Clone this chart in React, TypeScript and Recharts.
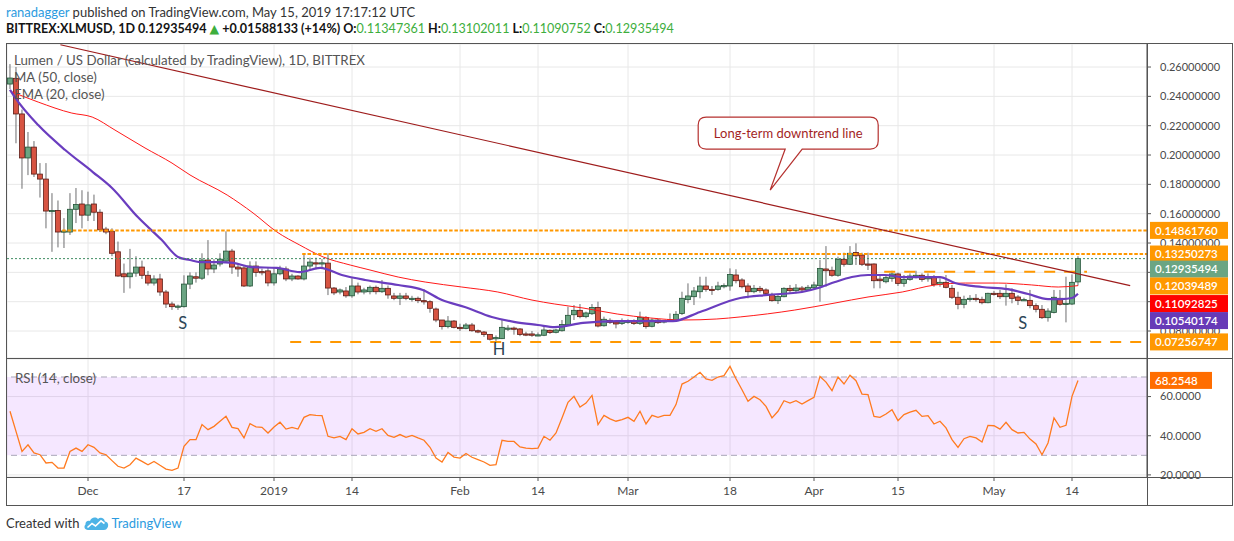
import React from 'react';
import {
  ComposedChart,
  Bar,
  Line,
  XAxis,
  YAxis,
  CartesianGrid,
  ReferenceLine,
  ReferenceArea,
  ReferenceDot,
} from 'recharts';

const FONT = 'Lato, "Open Sans", "DejaVu Sans", sans-serif';

// ---------- data (daily, index 0 = 2018-11-18, index 178 = 2019-05-15) ----------
const opens = [
  0.2484, 0.2523, 0.2280, 0.1980, 0.2054, 0.1870, 0.1836, 0.1618, 0.1622, 0.1475,
  0.1475, 0.1630, 0.1666, 0.1590, 0.1666, 0.1610, 0.1495, 0.1480, 0.1340, 0.1190,
  0.1170, 0.1195, 0.1236, 0.1180, 0.1127, 0.1155, 0.1066, 0.0984, 0.0966, 0.0966,
  0.1120, 0.1170, 0.1160, 0.1284, 0.1223, 0.1257, 0.1277, 0.1345, 0.1236, 0.1230,
  0.1107, 0.1243, 0.1205, 0.1210, 0.1128, 0.1190, 0.1223, 0.1155, 0.1175, 0.1155,
  0.1243, 0.1265, 0.1260, 0.1263, 0.1093, 0.1066, 0.1073, 0.1040, 0.1107, 0.1066,
  0.1068, 0.1098, 0.1068, 0.1091, 0.1039, 0.1023, 0.1039, 0.1015, 0.1023, 0.1007,
  0.1000, 0.0950, 0.0875, 0.0830, 0.0868, 0.0825, 0.0818, 0.0841, 0.0802, 0.0793,
  0.0777, 0.0748, 0.0748, 0.0818, 0.0820, 0.0814, 0.0780, 0.0780, 0.0771, 0.0771,
  0.0805, 0.0791, 0.0802, 0.0843, 0.0911, 0.0941, 0.0898, 0.0918, 0.0961, 0.0836,
  0.0873, 0.0861, 0.0852, 0.0859, 0.0868, 0.0852, 0.0893, 0.0832, 0.0875, 0.0861,
  0.0866, 0.0870, 0.0920, 0.1014, 0.1034, 0.1068, 0.1107, 0.1084, 0.1084, 0.1107,
  0.1107, 0.1182, 0.1148, 0.1107, 0.1068, 0.1091, 0.1080, 0.1050, 0.1007, 0.1034,
  0.1091, 0.1075, 0.1093, 0.1080, 0.1095, 0.1109, 0.1223, 0.1214, 0.1180, 0.1289,
  0.1255, 0.1336, 0.1318, 0.1257, 0.1257, 0.1154, 0.1136, 0.1159, 0.1189, 0.1125,
  0.1152, 0.1175, 0.1180, 0.1160, 0.1166, 0.1118, 0.1132, 0.1091, 0.1030, 0.0982,
  0.1020, 0.1023, 0.1016, 0.0993, 0.1057, 0.1057, 0.1034, 0.1057, 0.1032, 0.1011,
  0.1009, 0.0973, 0.0948, 0.0891, 0.0927, 0.1023, 0.0982, 0.0984, 0.11347361,
];

const highs = [
  0.2620, 0.2600, 0.2310, 0.2157, 0.2095, 0.1945, 0.1945, 0.1740, 0.1690, 0.1570,
  0.1740, 0.1775, 0.1760, 0.1750, 0.1730, 0.1630, 0.1510, 0.1500, 0.1410, 0.1260,
  0.1360, 0.1310, 0.1280, 0.1210, 0.1180, 0.1190, 0.1080, 0.1000, 0.0980, 0.1180,
  0.1200, 0.1200, 0.1330, 0.1420, 0.1290, 0.1330, 0.1480, 0.1360, 0.1250, 0.1250,
  0.1275, 0.1275, 0.1225, 0.1235, 0.1235, 0.1245, 0.1240, 0.1190, 0.1180, 0.1325,
  0.1300, 0.1300, 0.1290, 0.1330, 0.1100, 0.1090, 0.1100, 0.1160, 0.1130, 0.1095,
  0.1110, 0.1110, 0.1148, 0.1110, 0.1060, 0.1060, 0.1060, 0.1040, 0.1035, 0.1086,
  0.1010, 0.0960, 0.0875, 0.0902, 0.0875, 0.0850, 0.0855, 0.0855, 0.0810, 0.0800,
  0.0780, 0.0770, 0.0882, 0.0840, 0.0830, 0.0820, 0.0795, 0.0800, 0.0790, 0.0835,
  0.0810, 0.0815, 0.0875, 0.0966, 0.0977, 0.0984, 0.0932, 0.0984, 0.1000, 0.0898,
  0.0887, 0.0875, 0.0886, 0.0880, 0.0880, 0.0932, 0.0902, 0.0886, 0.0886, 0.0875,
  0.0920, 0.0936, 0.1068, 0.1125, 0.1100, 0.1170, 0.1170, 0.1107, 0.1136, 0.1125,
  0.1227, 0.1221, 0.1160, 0.1125, 0.1114, 0.1107, 0.1091, 0.1061, 0.1045, 0.1098,
  0.1114, 0.1120, 0.1107, 0.1114, 0.1136, 0.1284, 0.1379, 0.1239, 0.1307, 0.1334,
  0.1379, 0.1398, 0.1334, 0.1334, 0.1261, 0.1182, 0.1182, 0.1211, 0.1198, 0.1182,
  0.1193, 0.1211, 0.1193, 0.1193, 0.1182, 0.1159, 0.1182, 0.1114, 0.1068, 0.1041,
  0.1045, 0.1052, 0.1034, 0.1061, 0.1073, 0.1080, 0.1118, 0.1091, 0.1045, 0.1027,
  0.1080, 0.0989, 0.0977, 0.0955, 0.1080, 0.1080, 0.1170, 0.1186, 0.13102011,
];

const lows = [
  0.2450, 0.2080, 0.1770, 0.1863, 0.1850, 0.1710, 0.1500, 0.1340, 0.1370, 0.1366,
  0.1455, 0.1536, 0.1500, 0.1550, 0.1550, 0.1475, 0.1460, 0.1310, 0.1170, 0.1060,
  0.1090, 0.1170, 0.1155, 0.1110, 0.1110, 0.1040, 0.0957, 0.0944, 0.0944, 0.0960,
  0.1086, 0.1130, 0.1148, 0.1180, 0.1195, 0.1240, 0.1270, 0.1190, 0.1170, 0.1100,
  0.1100, 0.1170, 0.1180, 0.1105, 0.1110, 0.1180, 0.1140, 0.1140, 0.1150, 0.1145,
  0.1210, 0.1220, 0.1230, 0.1045, 0.1045, 0.1050, 0.1027, 0.1027, 0.1050, 0.1050,
  0.1050, 0.1050, 0.1060, 0.1020, 0.1010, 0.0977, 0.1010, 0.1000, 0.0990, 0.0980,
  0.0925, 0.0860, 0.0810, 0.0818, 0.0818, 0.0800, 0.0812, 0.0795, 0.0785, 0.0760,
  0.0735, 0.0725, 0.0745, 0.0800, 0.0775, 0.0765, 0.0765, 0.0760, 0.0765, 0.0765,
  0.0780, 0.0784, 0.0796, 0.0834, 0.0875, 0.0887, 0.0887, 0.0909, 0.0825, 0.0830,
  0.0848, 0.0818, 0.0841, 0.0850, 0.0841, 0.0841, 0.0816, 0.0825, 0.0848, 0.0852,
  0.0862, 0.0864, 0.0909, 0.0989, 0.0977, 0.1023, 0.1068, 0.1046, 0.1075, 0.1091,
  0.1075, 0.1125, 0.1091, 0.1023, 0.1057, 0.1061, 0.1045, 0.1000, 0.0984, 0.1030,
  0.1061, 0.1057, 0.1068, 0.1075, 0.1084, 0.1000, 0.1102, 0.1170, 0.1170, 0.1239,
  0.1250, 0.1250, 0.1243, 0.1216, 0.1091, 0.1091, 0.1125, 0.1136, 0.1107, 0.1102,
  0.1143, 0.1159, 0.1136, 0.1136, 0.1102, 0.1102, 0.1091, 0.1018, 0.0948, 0.0955,
  0.1000, 0.1000, 0.0982, 0.0989, 0.1041, 0.1018, 0.0973, 0.0989, 0.0977, 0.1005,
  0.0955, 0.0927, 0.0882, 0.0864, 0.0920, 0.0973, 0.0859, 0.0977, 0.11090752,
];

const closes = [
  0.2525, 0.2280, 0.1980, 0.2054, 0.1870, 0.1836, 0.1618, 0.1622, 0.1475, 0.1482,
  0.1630, 0.1663, 0.1590, 0.1660, 0.1610, 0.1490, 0.1475, 0.1330, 0.1175, 0.1170,
  0.1195, 0.1236, 0.1180, 0.1127, 0.1155, 0.1066, 0.0984, 0.0966, 0.0970, 0.1120,
  0.1175, 0.1160, 0.1284, 0.1223, 0.1250, 0.1290, 0.1345, 0.1236, 0.1223, 0.1107,
  0.1243, 0.1200, 0.1200, 0.1128, 0.1190, 0.1223, 0.1155, 0.1175, 0.1155, 0.1243,
  0.1270, 0.1260, 0.1265, 0.1093, 0.1060, 0.1080, 0.1040, 0.1107, 0.1066, 0.1080,
  0.1098, 0.1068, 0.1091, 0.1046, 0.1023, 0.1039, 0.1023, 0.1023, 0.1007, 0.1000,
  0.0955, 0.0875, 0.0830, 0.0868, 0.0825, 0.0816, 0.0841, 0.0802, 0.0793, 0.0777,
  0.0744, 0.0755, 0.0825, 0.0820, 0.0812, 0.0777, 0.0778, 0.0771, 0.0774, 0.0807,
  0.0790, 0.0807, 0.0845, 0.0907, 0.0941, 0.0898, 0.0923, 0.0961, 0.0834, 0.0880,
  0.0859, 0.0848, 0.0864, 0.0868, 0.0852, 0.0893, 0.0830, 0.0875, 0.0857, 0.0870,
  0.0877, 0.0914, 0.1023, 0.1039, 0.1073, 0.1107, 0.1084, 0.1082, 0.1107, 0.1110,
  0.1186, 0.1143, 0.1102, 0.1068, 0.1091, 0.1075, 0.1057, 0.1007, 0.1036, 0.1091,
  0.1075, 0.1093, 0.1080, 0.1098, 0.1114, 0.1227, 0.1211, 0.1180, 0.1289, 0.1255,
  0.1330, 0.1313, 0.1255, 0.1252, 0.1143, 0.1143, 0.1164, 0.1189, 0.1125, 0.1152,
  0.1175, 0.1180, 0.1152, 0.1164, 0.1118, 0.1132, 0.1098, 0.1030, 0.0982, 0.1016,
  0.1023, 0.1014, 0.0993, 0.1057, 0.1050, 0.1034, 0.1057, 0.1023, 0.1009, 0.1014,
  0.0973, 0.0948, 0.0891, 0.0936, 0.1030, 0.0982, 0.0989, 0.1132, 0.12935494,
];

const rsiValues = [
  52.5, 42.2, 32.0, 35.4, 31.2, 30.3, 26.1, 26.4, 23.5, 23.5,
  32.0, 33.7, 32.0, 35.4, 34.1, 31.2, 30.3, 27.3, 24.4, 23.5,
  25.2, 28.6, 26.9, 25.2, 26.9, 24.9, 23.0, 22.3, 23.5, 34.6,
  38.0, 38.0, 45.7, 43.1, 44.8, 47.4, 49.9, 44.3, 43.6, 38.9,
  46.2, 44.5, 44.3, 41.4, 44.5, 46.9, 43.4, 44.3, 43.4, 49.4,
  50.8, 50.4, 50.3, 39.7, 38.9, 39.7, 38.0, 43.6, 40.9, 41.7,
  43.6, 42.3, 43.6, 40.2, 39.2, 40.6, 39.2, 40.2, 38.9, 37.7,
  34.1, 28.6, 26.6, 31.5, 29.1, 28.6, 30.9, 29.0, 27.8, 26.6,
  24.9, 25.2, 37.7, 37.1, 37.1, 34.3, 33.7, 33.4, 33.7, 39.7,
  37.7, 41.4, 49.1, 57.1, 60.1, 54.7, 56.7, 60.6, 45.7, 50.4,
  48.6, 47.4, 48.2, 49.4, 47.4, 52.5, 46.0, 50.4, 49.4, 50.4,
  50.4, 55.9, 66.4, 67.8, 70.0, 72.4, 69.0, 68.3, 70.0, 70.7,
  75.4, 69.1, 63.5, 57.6, 60.1, 58.4, 55.0, 49.1, 52.5, 57.9,
  56.7, 57.9, 56.2, 57.9, 59.6, 70.3, 67.4, 63.0, 70.0, 66.4,
  70.9, 68.1, 61.3, 61.0, 49.9, 49.4, 51.1, 53.3, 47.7, 50.8,
  52.1, 53.0, 49.9, 50.3, 46.0, 47.4, 44.0, 38.0, 34.1, 38.5,
  39.7, 38.9, 36.8, 45.3, 45.1, 43.4, 46.9, 43.1, 41.4, 41.7,
  38.3, 35.8, 30.3, 36.3, 49.1, 44.3, 45.3, 60.1, 68.2548,
];

// MA (50, close) readings
const smaDays = [0, 4.7, 10.3, 13.7, 17.5, 22.5, 27, 30, 36.2, 40.5, 44.5, 48.3, 52.2, 56.7, 60, 64.7, 69.2, 75.3, 81.3, 87, 90.8, 95.5, 101.2, 106.7, 112.2, 117.8, 121.7, 130.8, 137.5, 143, 148.7, 154.2, 159.2, 164.7, 170.3, 174.7, 178];
const smaValues = [0.2436, 0.2361, 0.2286, 0.2259, 0.2170, 0.2048, 0.1945, 0.1864, 0.1727, 0.1605, 0.1475, 0.1386, 0.1305, 0.1250, 0.1216, 0.1168, 0.1134, 0.1100, 0.1066, 0.1011, 0.0984, 0.0957, 0.0916, 0.0889, 0.0875, 0.0882, 0.0896, 0.0943, 0.0991, 0.1032, 0.1066, 0.1114, 0.1127, 0.1127, 0.1114, 0.1100, 0.11092825];

// EMA (20, close) readings
const emaDays = [0, 0.8, 4.7, 9.2, 13.8, 17, 21.3, 25.3, 28, 30, 31.7, 34.7, 37.2, 40.3, 44.5, 48.3, 51.7, 55.3, 59.2, 64.7, 68.8, 72, 75.8, 80.3, 84.2, 88, 90.8, 95.5, 101.2, 106.7, 110.5, 115, 121.7, 126.3, 132, 134.7, 137.5, 140.3, 143, 145.8, 148.7, 152.5, 155, 157.5, 162, 166.3, 169.7, 173, 175.3, 177, 178];
const emaValues = [0.2445, 0.2395, 0.2204, 0.2034, 0.1884, 0.1775, 0.1577, 0.1420, 0.1305, 0.1284, 0.1270, 0.1270, 0.1264, 0.1236, 0.1230, 0.1202, 0.1230, 0.1182, 0.1148, 0.1114, 0.1080, 0.1011, 0.0964, 0.0896, 0.0861, 0.0841, 0.0827, 0.0855, 0.0868, 0.0868, 0.0868, 0.0930, 0.1025, 0.1046, 0.1066, 0.1093, 0.1134, 0.1168, 0.1182, 0.1182, 0.1168, 0.1168, 0.1168, 0.1127, 0.1100, 0.1086, 0.1052, 0.1018, 0.1018, 0.1025, 0.10540174];

// Long-term downtrend line end points (day index, price)
const trendDays = [8.4, 186.7];
const trendPrices = [0.2752, 0.1109];

// Horizontal levels
const resistance1 = 0.1486176;
const resistance2 = 0.13250273;
const neckline = 0.12039489;
const support = 0.07256747;
const lastClose = 0.12935494;
const lastSma = 0.11092825;
const lastEma = 0.10540174;
const lastRsi = 68.2548;

const tickDays = [13, 29, 44, 57, 75, 88, 103, 120, 134, 148, 164, 177];
const tickLabels = ['Dec', '17', '2019', '14', 'Feb', '14', 'Mar', '18', 'Apr', '15', 'May', '14'];
const priceTicks = [0.08, 0.1, 0.12, 0.14, 0.16, 0.18, 0.2, 0.22, 0.24, 0.26];
const rsiTicks = [20, 40, 60];

// ---------- derived tables ----------
const candles = opens.map((o, i) => ({
  i,
  o,
  h: highs[i],
  l: lows[i],
  c: closes[i],
  range: [lows[i], highs[i]],
}));
const smaData = smaDays.map((d, k) => ({ i: d, v: smaValues[k] }));
const emaData = emaDays.map((d, k) => ({ i: d, v: emaValues[k] }));
const rsiData = rsiValues.map((r, i) => ({ i, r }));

const X_DOMAIN: [number, number] = [-0.5, 189.5];
const PRICE_DOMAIN: [number, number] = [0.0616, 0.2757];
const RSI_DOMAIN: [number, number] = [18.93, 79.19];

const ORANGE = '#FF9800';
const UP = '#6BA583';
const DOWN = '#D75442';

const Candle = (props: any) => {
  const { x, y, width, height, payload } = props;
  if (!payload || x == null) return null;
  const { o, h, l, c } = payload;
  const top = Math.min(y, y + height);
  const H = Math.abs(height);
  const span = h - l || 1e-9;
  const yOf = (v: number) => top + ((h - v) / span) * H;
  const cx = x + width / 2;
  const up = c >= o;
  const bTop = yOf(Math.max(o, c));
  const bBot = yOf(Math.min(o, c));
  const bh = Math.max(bBot - bTop, 1.2);
  return (
    <g>
      <line x1={cx} x2={cx} y1={top} y2={top + H} stroke="#6E6E70" strokeWidth={1} />
      <rect
        x={cx - 2.4}
        y={bTop}
        width={4.8}
        height={bh}
        fill={up ? UP : DOWN}
        stroke={up ? '#225437' : '#5B1A13'}
        strokeWidth={0.8}
      />
    </g>
  );
};

const PriceTag = (props: any) => {
  const { viewBox, text, bg, shift = 0, w = 78 } = props;
  if (!viewBox) return null;
  const xx = viewBox.x + viewBox.width + 3;
  const yy = viewBox.y + shift;
  return (
    <g>
      <rect x={xx} y={yy - 8.5} width={w} height={17} fill={bg} />
      <text
        x={xx + 5}
        y={yy}
        dy="0.36em"
        fill="#FFFFFF"
        fontSize={11.5}
        fontFamily={FONT}
        fontWeight={600}
      >
        {text}
      </text>
    </g>
  );
};

const PatternLetter = (letter: string) => (p: any) => (
  <text
    x={p.cx}
    y={p.cy}
    textAnchor="middle"
    dy="0.36em"
    fontSize={16.5}
    fontFamily={FONT}
    fill="#2C4656"
  >
    {letter}
  </text>
);

const Callout = (p: any) => {
  const { cx, cy } = p;
  if (cx == null) return null;
  const L = cx - 72;
  const R = cx + 108;
  const T = cy - 73;
  const B = cy - 41;
  const r = 8;
  const d = `M ${L + r} ${T} H ${R - r} Q ${R} ${T} ${R} ${T + r} V ${B - r} Q ${R} ${B} ${R - r} ${B} H ${cx + 32} L ${cx} ${cy} L ${cx + 15} ${B} H ${L + r} Q ${L} ${B} ${L} ${B - r} V ${T + r} Q ${L} ${T} ${L + r} ${T} Z`;
  return (
    <g>
      <path d={d} fill="#FFFFFF" stroke="#B5312F" strokeWidth={1.2} />
      <text
        x={(L + R) / 2}
        y={(T + B) / 2}
        dy="0.36em"
        textAnchor="middle"
        fontSize={13}
        fontFamily={FONT}
        fill="#A31F1F"
      >
        Long-term downtrend line
      </text>
    </g>
  );
};

const axisTick = { fill: '#4A4A4A', fontSize: 11, fontFamily: FONT };

const frameLine = (left: number, top: number, width: number, height: number) => (
  <div
    style={{
      position: 'absolute',
      left,
      top,
      width,
      height,
      background: '#555',
      pointerEvents: 'none',
    }}
  />
);

const TvLogo = () => (
  <svg width={26} height={16} viewBox="0 0 26 16" style={{ display: 'block' }}>
    <path
      d="M5 15 C1.5 15 0.5 11.5 2.5 9.6 C2 6.5 5 5 7 6 C8 2.5 12.5 1.5 15 4 C17 1.8 21.5 2.6 21.8 6.4 C25 6.6 26 10 24.6 12.5 C23.8 14.2 22.5 15 21 15 Z"
      fill="#4DB3E6"
    />
    <path d="M4.5 12.5 L9 8.5 L12.5 11 L18 5.8 L21.5 8.5" stroke="#FFFFFF" strokeWidth={1.6} fill="none" />
  </svg>
);

const legendStyle: React.CSSProperties = {
  position: 'absolute',
  left: 14,
  fontSize: 13.3,
  lineHeight: '16px',
  color: '#555',
  whiteSpace: 'nowrap',
};

export default function App() {
  return (
    <div
      style={{
        position: 'absolute',
        left: 0,
        top: 0,
        width: 1234,
        height: 541,
        background: '#FFFFFF',
        fontFamily: FONT,
        overflow: 'hidden',
      }}
    >
      {/* header */}
      <div style={{ position: 'absolute', left: 6, top: 4, fontSize: 13, lineHeight: '16px', color: '#333', whiteSpace: 'nowrap' }}>
        <span style={{ color: '#2C9BE0' }}>ranadagger</span> published on TradingView.com, May 15, 2019 17:17:12 UTC
      </div>
      <div style={{ position: 'absolute', left: 6, top: 21, fontSize: 12.55, lineHeight: '16px', color: '#131313', whiteSpace: 'nowrap', fontWeight: 700 }}>
        BITTREX:XLMUSD, 1D 0.12935494 <span style={{ color: '#3DAE3D' }}>▲</span> +0.01588133 (+14%) O:
        <span style={{ color: '#3DAE3D', fontWeight: 400 }}>0.11347361</span> H:
        <span style={{ color: '#3DAE3D', fontWeight: 400 }}>0.13102011</span> L:
        <span style={{ color: '#3DAE3D', fontWeight: 400 }}>0.11090752</span> C:
        <span style={{ color: '#3DAE3D', fontWeight: 400 }}>0.12935494</span>
      </div>

      {/* main price pane */}
      <div style={{ position: 'absolute', left: 7, top: 44 }}>
        <ComposedChart width={1225} height={314} data={candles} margin={{ top: 0, right: 0, bottom: 0, left: 0 }}>
          <CartesianGrid stroke="#E8E8E8" />
          <XAxis dataKey="i" type="number" domain={X_DOMAIN} ticks={tickDays} allowDataOverflow hide />
          <YAxis
            orientation="right"
            width={85}
            domain={PRICE_DOMAIN}
            ticks={priceTicks}
            allowDataOverflow
            tickFormatter={(v: number) => v.toFixed(8)}
            tick={axisTick}
            tickSize={4}
            tickMargin={9}
            tickLine={{ stroke: '#555' }}
            axisLine={{ stroke: '#555' }}
          />
          <Bar dataKey="range" barSize={5} shape={<Candle />} isAnimationActive={false} />
          <Line data={smaData} dataKey="v" type="monotone" stroke="#FF1A1A" strokeWidth={1} dot={false} isAnimationActive={false} />
          <Line data={emaData} dataKey="v" type="monotone" stroke="#6A3DBF" strokeWidth={2.2} dot={false} isAnimationActive={false} />
          <ReferenceLine
            segment={[{ x: -0.5, y: lastClose }, { x: 189.5, y: lastClose }]}
            stroke="#3F8C62"
            strokeDasharray="2 2"
            strokeWidth={1}
          />
          <ReferenceLine
            segment={[{ x: 8.7, y: resistance1 }, { x: 189.5, y: resistance1 }]}
            stroke={ORANGE}
            strokeWidth={2}
            strokeDasharray="3.5 1.8"
          />
          <ReferenceLine
            segment={[{ x: 48.7, y: resistance2 }, { x: 189.5, y: resistance2 }]}
            stroke={ORANGE}
            strokeWidth={2}
            strokeDasharray="3.5 1.8"
          />
          <ReferenceLine
            segment={[{ x: 145.7, y: neckline }, { x: 179.5, y: neckline }]}
            stroke={ORANGE}
            strokeWidth={2}
            strokeDasharray="11 9"
          />
          <ReferenceLine
            segment={[{ x: 46.7, y: support }, { x: 189.5, y: support }]}
            stroke={ORANGE}
            strokeWidth={2}
            strokeDasharray="11 9"
          />
          <ReferenceLine
            segment={[{ x: trendDays[0], y: trendPrices[0] }, { x: trendDays[1], y: trendPrices[1] }]}
            stroke="#9E1C1C"
            strokeWidth={1.2}
          />
          <ReferenceDot x={28.8} y={0.0855} r={0} shape={PatternLetter('S')} />
          <ReferenceDot x={81.5} y={0.0679} r={0} shape={PatternLetter('H')} />
          <ReferenceDot x={168.8} y={0.0855} r={0} shape={PatternLetter('S')} />
          <ReferenceDot x={126.7} y={0.1761} r={0} shape={Callout} />
        </ComposedChart>
      </div>

      {/* price tags on top of the price axis (same scales as the price pane) */}
      <div style={{ position: 'absolute', left: 7, top: 44, pointerEvents: 'none' }}>
        <ComposedChart width={1225} height={314} data={candles} margin={{ top: 0, right: 0, bottom: 0, left: 0 }}>
          <XAxis dataKey="i" type="number" domain={X_DOMAIN} allowDataOverflow hide />
          <YAxis
            orientation="right"
            width={85}
            domain={PRICE_DOMAIN}
            allowDataOverflow
            tick={false}
            tickLine={false}
            axisLine={false}
          />
          <ReferenceLine y={resistance1} stroke="none" label={<PriceTag text="0.14861760" bg={ORANGE} />} />
          <ReferenceLine y={resistance2} stroke="none" label={<PriceTag text="0.13250273" bg={ORANGE} />} />
          <ReferenceLine y={lastClose} stroke="none" label={<PriceTag text="0.12935494" bg={UP} shift={10.5} />} />
          <ReferenceLine y={neckline} stroke="none" label={<PriceTag text="0.12039489" bg={ORANGE} shift={14.2} />} />
          <ReferenceLine y={lastSma} stroke="none" label={<PriceTag text="0.11092825" bg="#FF0000" shift={17.9} />} />
          <ReferenceLine y={lastEma} stroke="none" label={<PriceTag text="0.10540174" bg="#673AB7" shift={26.8} />} />
          <ReferenceLine y={support} stroke="none" label={<PriceTag text="0.07256747" bg={ORANGE} />} />
        </ComposedChart>
      </div>

      {/* RSI pane */}
      <div style={{ position: 'absolute', left: 7, top: 359 }}>
        <ComposedChart width={1225} height={146} data={rsiData} margin={{ top: 0, right: 0, bottom: 0, left: 0 }}>
          <CartesianGrid stroke="#E8E8E8" />
          <ReferenceArea y1={30} y2={70} fill="#9915FF" fillOpacity={0.1} stroke="none" />
          <XAxis
            dataKey="i"
            type="number"
            domain={X_DOMAIN}
            ticks={tickDays}
            interval={0}
            allowDataOverflow
            height={28}
            axisLine={false}
            tickLine={{ stroke: '#555' }}
            tickSize={4}
            tickMargin={5}
            tick={{ fill: '#4A4A4A', fontSize: 12, fontFamily: FONT }}
            tickFormatter={(v: number) => tickLabels[tickDays.indexOf(v)] ?? ''}
          />
          <YAxis
            orientation="right"
            width={85}
            domain={RSI_DOMAIN}
            ticks={rsiTicks}
            allowDataOverflow
            tickFormatter={(v: number) => v.toFixed(4)}
            tick={axisTick}
            tickSize={4}
            tickMargin={9}
            tickLine={{ stroke: '#555' }}
            axisLine={{ stroke: '#555' }}
          />
          <ReferenceLine y={70} stroke="#A9A6B8" strokeDasharray="6 4" />
          <ReferenceLine y={30} stroke="#A9A6B8" strokeDasharray="6 4" />
          <Line dataKey="r" type="linear" stroke="#FF7A1F" strokeWidth={1.3} dot={false} isAnimationActive={false} />
          <ReferenceLine y={lastRsi} stroke="none" label={<PriceTag text="68.2548" bg="#FF6D00" w={62} />} />
        </ComposedChart>
      </div>

      {/* legends inside panes */}
      <div style={{ ...legendStyle, top: 52 }}>Lumen / US Dollar (calculated by TradingView), 1D, BITTREX</div>
      <div style={{ ...legendStyle, top: 69 }}>MA (50, close)</div>
      <div style={{ ...legendStyle, top: 86 }}>EMA (20, close)</div>
      <div style={{ ...legendStyle, left: 15, top: 370 }}>RSI (14, close)</div>

      {/* frame */}
      {frameLine(7, 43, 1226, 1)}
      {frameLine(7, 505, 1226, 1)}
      {frameLine(6, 43, 1, 463)}
      {frameLine(1232, 43, 1, 463)}
      {frameLine(7, 358, 1226, 1)}
      {frameLine(7, 477, 1226, 1)}
      {frameLine(1147, 43, 1, 463)}

      {/* footer */}
      <div style={{ position: 'absolute', left: 6, top: 515, fontSize: 13, lineHeight: '16px', color: '#333', whiteSpace: 'nowrap', display: 'flex', alignItems: 'center' }}>
        <span>Created with</span>
        <span style={{ marginLeft: 4, marginRight: 2 }}>
          <TvLogo />
        </span>
        <span style={{ color: '#2C9BE0' }}>TradingView</span>
      </div>
    </div>
  );
}
